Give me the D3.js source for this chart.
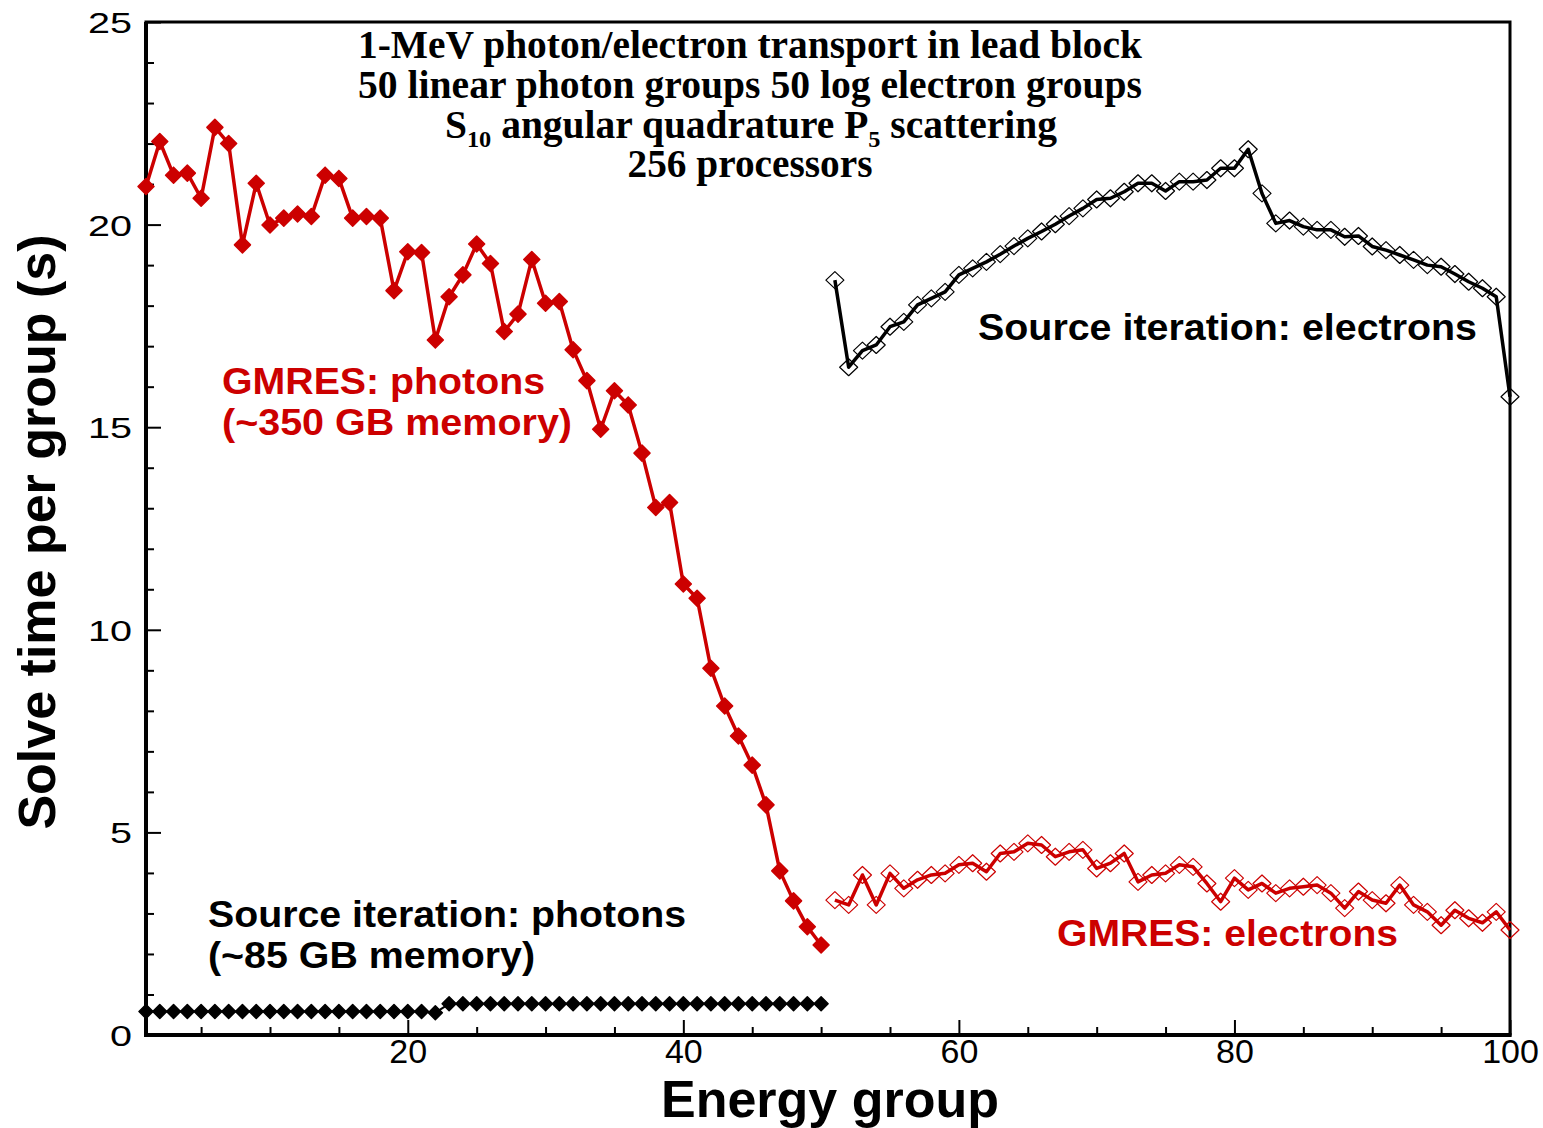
<!DOCTYPE html>
<html>
<head>
<meta charset="utf-8">
<script src="https://cdn.jsdelivr.net/npm/d3@7"></script>
<style>
  body { margin: 0; background: #fff; }
  svg { display: block; }
</style>
</head>
<body>
<svg id="chart" width="1543" height="1128"></svg>
<script>
// Energy groups: photons occupy 1-50, electrons 51-100
const photonGroups = d3.range(1, 51);
const electronGroups = d3.range(51, 101);

// Solve time per group (s)
const gmresPhotons = [
  20.94, 22.05, 21.22, 21.27, 20.65, 22.40, 22.00, 19.50, 21.02, 19.99,
  20.16, 20.26, 20.20, 21.22, 21.14, 20.16, 20.20, 20.16, 18.37, 19.33,
  19.31, 17.15, 18.22, 18.76, 19.52, 19.04, 17.36, 17.79, 19.14, 18.06,
  18.10, 16.91, 16.15, 14.95, 15.90, 15.55, 14.36, 13.02, 13.14, 11.13,
  10.78, 9.05, 8.12, 7.38, 6.66, 5.68, 4.05, 3.31, 2.67, 2.22
];
const sourcePhotons = [
  0.58, 0.58, 0.58, 0.58, 0.58, 0.58, 0.58, 0.58, 0.58, 0.58,
  0.58, 0.58, 0.58, 0.58, 0.58, 0.58, 0.58, 0.58, 0.58, 0.58,
  0.58, 0.55, 0.77, 0.77, 0.77, 0.77, 0.77, 0.77, 0.77, 0.77,
  0.77, 0.77, 0.77, 0.77, 0.77, 0.77, 0.77, 0.77, 0.77, 0.77,
  0.77, 0.77, 0.77, 0.77, 0.77, 0.77, 0.77, 0.77, 0.77, 0.77
];
const sourceElectrons = [
  18.63, 16.48, 16.89, 17.03, 17.48, 17.60, 18.02, 18.18, 18.34, 18.76,
  18.92, 19.08, 19.27, 19.47, 19.66, 19.83, 20.01, 20.21, 20.40, 20.62,
  20.65, 20.81, 21.02, 21.02, 20.83, 21.06, 21.06, 21.10, 21.39, 21.39,
  21.86, 20.77, 20.03, 20.10, 19.95, 19.87, 19.87, 19.70, 19.72, 19.46,
  19.37, 19.25, 19.13, 19.00, 18.96, 18.78, 18.59, 18.43, 18.22, 15.75
];
const gmresElectrons = [
  3.33, 3.21, 3.95, 3.21, 3.99, 3.62, 3.83, 3.95, 3.99, 4.20,
  4.24, 4.03, 4.48, 4.52, 4.73, 4.69, 4.40, 4.52, 4.57, 4.11,
  4.24, 4.48, 3.78, 3.95, 3.99, 4.20, 4.15, 3.74, 3.29, 3.87,
  3.58, 3.74, 3.50, 3.62, 3.66, 3.70, 3.50, 3.13, 3.54, 3.33,
  3.25, 3.70, 3.21, 3.04, 2.71, 3.08, 2.88, 2.77, 3.04, 2.59
];

const xMajorTicks = [20, 40, 60, 80, 100];
const xMinorTicks = [5, 10, 15, 25, 30, 35, 45, 50, 55, 65, 70, 75, 85, 90, 95];
const yMajorTicks = [0, 5, 10, 15, 20, 25];
const yMinorTicks = [1, 2, 3, 4, 6, 7, 8, 9, 11, 12, 13, 14, 16, 17, 18, 19, 21, 22, 23, 24];

const RED = "#cc0000";
const SANS = "'Liberation Sans', Arial, Helvetica, sans-serif";
const SERIF = "'Liberation Serif', 'Times New Roman', serif";

const svg = d3.select("#chart");
const plot = { left: 146, right: 1510, top: 22, bottom: 1035 };

const x = d3.scaleLinear().domain([1, 100]).range([plot.left, plot.right]);
const y = d3.scaleLinear().domain([0, 25]).range([plot.bottom, plot.top]);

// stretch or squeeze a text element to a given pixel width
function fit(sel, width) {
  sel.attr("textLength", width).attr("lengthAdjust", "spacingAndGlyphs");
  return sel;
}

// ---- axes (ticks point into the plot) ----
const xAxisMajor = svg.append("g")
  .attr("transform", `translate(0,${plot.bottom})`)
  .call(d3.axisBottom(x).tickValues(xMajorTicks).tickSize(-15).tickPadding(28).tickFormat(d3.format("d")));
const xAxisMinor = svg.append("g")
  .attr("transform", `translate(0,${plot.bottom})`)
  .call(d3.axisBottom(x).tickValues(xMinorTicks).tickSize(-8).tickFormat(""));
const yAxisMajor = svg.append("g")
  .attr("transform", `translate(${plot.left},0)`)
  .call(d3.axisLeft(y).tickValues(yMajorTicks).tickSize(-15).tickPadding(30).tickFormat(d3.format("d")));
const yAxisMinor = svg.append("g")
  .attr("transform", `translate(${plot.left},0)`)
  .call(d3.axisLeft(y).tickValues(yMinorTicks).tickSize(-8).tickFormat(""));

[xAxisMajor, xAxisMinor, yAxisMajor, yAxisMinor].forEach(g => {
  g.select(".domain").remove();
  g.selectAll(".tick line").attr("stroke", "#000").attr("stroke-width", 2);
});

xAxisMajor.selectAll(".tick text")
  .attr("font-family", SANS).attr("font-size", 34).attr("fill", "#000")
  .attr("dy", "0");
yAxisMajor.selectAll(".tick text")
  .attr("font-family", SANS).attr("font-size", 29).attr("fill", "#000")
  .attr("text-anchor", "end").attr("dy", "0.36em")
  .attr("x", -14)
  .each(function (d) {
    const s = String(d);
    d3.select(this).attr("textLength", s.length * 22).attr("lengthAdjust", "spacingAndGlyphs");
  });

// frame
svg.append("rect")
  .attr("x", plot.left).attr("y", plot.top)
  .attr("width", plot.right - plot.left).attr("height", plot.bottom - plot.top)
  .attr("fill", "none").attr("stroke", "#000").attr("stroke-width", 3);
svg.append("line")
  .attr("x1", plot.left).attr("x2", plot.left).attr("y1", plot.top).attr("y2", plot.bottom + 2)
  .attr("stroke", "#000").attr("stroke-width", 4);
svg.append("line")
  .attr("x1", plot.left - 2).attr("x2", plot.right + 1.5).attr("y1", plot.bottom).attr("y2", plot.bottom)
  .attr("stroke", "#000").attr("stroke-width", 4);

// axis titles
svg.append("text")
  .attr("x", (plot.left + plot.right) / 2 + 2).attr("y", 1117)
  .attr("text-anchor", "middle")
  .attr("font-family", SANS).attr("font-weight", "bold").attr("font-size", 52)
  .text("Energy group");
svg.append("text")
  .attr("transform", "translate(55,532) rotate(-90)")
  .attr("text-anchor", "middle")
  .attr("font-family", SANS).attr("font-weight", "bold").attr("font-size", 52)
  .text("Solve time per group (s)");

// ---- series ----
const filledDiamond = "M0,-8L8,0L0,8L-8,0Z";
const smallDiamond = "M0,-7L7,0L0,7L-7,0Z";
const openDiamond = "M0,-8.5L9,0L0,8.5L-9,0Z";

function drawSeries(groups, values, opts) {
  const pts = groups.map((g, i) => [g, values[i]]);
  const g = svg.append("g");
  if (opts.line) {
    g.append("path")
      .datum(pts)
      .attr("fill", "none")
      .attr("stroke", opts.color)
      .attr("stroke-width", opts.lineWidth)
      .attr("stroke-linejoin", "round")
      .attr("d", d3.line().x(d => x(d[0])).y(d => y(d[1])));
  }
  g.selectAll("path.mark")
    .data(pts)
    .join("path")
    .attr("class", "mark")
    .attr("transform", d => `translate(${x(d[0])},${y(d[1])})`)
    .attr("d", opts.symbol)
    .attr("fill", opts.filled ? opts.color : "none")
    .attr("stroke", opts.color)
    .attr("stroke-linejoin", "round")
    .attr("stroke-width", opts.filled ? 1.5 : 1.2);
}

drawSeries(photonGroups, sourcePhotons, { color: "#000", symbol: smallDiamond, filled: true, line: true, lineWidth: 2 });
drawSeries(photonGroups, gmresPhotons, { color: RED, symbol: filledDiamond, filled: true, line: true, lineWidth: 3.5 });
drawSeries(electronGroups, sourceElectrons, { color: "#000", symbol: openDiamond, filled: false, line: true, lineWidth: 3.5 });
drawSeries(electronGroups, gmresElectrons, { color: RED, symbol: openDiamond, filled: false, line: true, lineWidth: 3.5 });

// ---- title block ----
const title = svg.append("g")
  .attr("font-family", SERIF).attr("font-weight", "bold").attr("font-size", 39)
  .attr("text-anchor", "middle").attr("fill", "#000");
fit(title.append("text").attr("x", 750).attr("y", 58).text("1-MeV photon/electron transport in lead block"), 784);
fit(title.append("text").attr("x", 750).attr("y", 98).text("50 linear photon groups 50 log electron groups"), 784);
const t3 = title.append("text").attr("x", 751).attr("y", 138);
t3.append("tspan").text("S");
t3.append("tspan").attr("font-size", 24).attr("dy", 9).text("10");
t3.append("tspan").attr("dy", -9).text(" angular quadrature P");
t3.append("tspan").attr("font-size", 24).attr("dy", 9).text("5");
t3.append("tspan").attr("dy", -9).text(" scattering");
fit(t3, 612);
fit(title.append("text").attr("x", 750).attr("y", 177).text("256 processors"), 245);

// ---- series annotations ----
const notes = svg.append("g")
  .attr("font-family", SANS).attr("font-weight", "bold").attr("font-size", 36);

function note(xPos, yPos, color, lines) {
  lines.forEach(([text, width], i) => {
    fit(notes.append("text")
      .attr("x", xPos).attr("y", yPos + i * 41)
      .attr("fill", color)
      .text(text), width);
  });
}

note(222, 394, RED, [["GMRES: photons", 323], ["(~350 GB memory)", 350]]);
note(208, 927, "#000", [["Source iteration: photons", 478], ["(~85 GB memory)", 327]]);
note(978, 340, "#000", [["Source iteration: electrons", 499]]);
note(1057, 946, RED, [["GMRES: electrons", 341]]);
</script>
</body>
</html>
